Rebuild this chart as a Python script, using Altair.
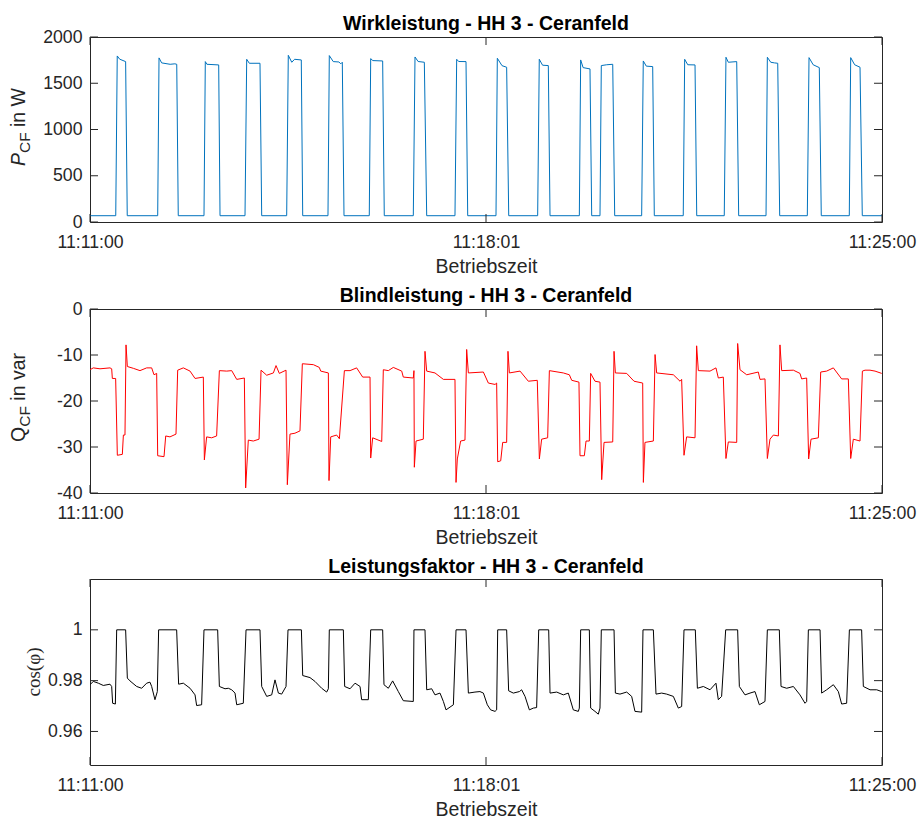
import altair as alt
import pandas as pd

# ---------------- data ----------------
x_domain = [0, 840]
x_tick_values = [0, 420, 840]
x_tick_labels = ["11:11:00", "11:18:01", "11:25:00"]
x_title = "Betriebszeit"

titles = ["Wirkleistung - HH 3 - Ceranfeld",
          "Blindleistung - HH 3 - Ceranfeld",
          "Leistungsfaktor - HH 3 - Ceranfeld"]

P_domain = [0, 2000]
P_ticks = [0, 500, 1000, 1500, 2000]
Q_domain = [-40, 0]
Q_ticks = [-40, -30, -20, -10, 0]
C_domain = [0.9468, 1.02]
C_ticks = [0.96, 0.98, 1.0]

t_P = [0, 27.3, 28.9, 31.5, 37.8, 39.5,
       71.8, 73.2, 76.0, 85.0, 90.0, 92.0, 93.6,
       120.9, 122.3, 124.0, 136.5, 137.9,
       164.4, 166.2, 169.0, 180.3, 182.1,
       208.6, 210.3, 214.0, 217.0, 224.1, 225.6,
       252.4, 253.8, 258.0, 264.0, 266.0, 267.6, 269.4,
       296.2, 297.7, 300.0, 310.4, 312.1,
       342.9, 344.7, 348.0, 354.6, 357.1,
       387.1, 388.9, 391.0, 398.8, 400.6,
       430.6, 432.0, 437.0, 441.9, 444.1,
       474.8, 476.5, 480.0, 486.1, 487.9,
       519.0, 520.4, 523.0, 530.3, 532.1,
       540.9, 542.3, 548.0, 554.4, 556.5,
       585.1, 586.8, 590.0, 596.8, 598.5,
       629.2, 630.7, 634.0, 641.7, 643.5,
       672.7, 674.5, 677.0, 685.9, 688.0,
       717.0, 718.4, 722.0, 726.0, 729.4, 731.5,
       760.8, 762.6, 767.0, 773.5, 775.6,
       805.3, 806.8, 811.0, 816.7, 819.1,
       840]
v_P = [68, 68, 1795, 1760, 1734, 68,
       68, 1774, 1720, 1705, 1710, 1705, 68,
       68, 1734, 1705, 1698, 68,
       68, 1759, 1716, 1716, 68,
       68, 1802, 1727, 1759, 1752, 68,
       68, 1799, 1734, 1730, 1710, 1727, 68,
       68, 1766, 1745, 1741, 68,
       68, 1784, 1735, 1727, 68,
       68, 1759, 1735, 1734, 68,
       68, 1770, 1690, 1673, 68,
       68, 1759, 1695, 1691, 68,
       68, 1752, 1669, 1655, 68,
       68, 1691, 1700, 1705, 68,
       68, 1741, 1685, 1680, 68,
       68, 1759, 1700, 1698, 68,
       68, 1781, 1727, 1734, 68,
       68, 1781, 1727, 1720, 1716, 68,
       68, 1777, 1700, 1669, 68,
       68, 1777, 1700, 1673, 68,
       68]

t_Q = [0, 3.5, 10.6, 21.2, 23.0, 23.7, 27.2,
       29.0, 34.3, 35.4, 37.1, 38.2, 39.6, 46.0, 53.0, 60.1, 65.4, 67.9, 70.7,
       71.8, 78.5, 80.3, 84.8, 91.2, 93.0, 99.0, 106.1, 111.4, 120.2,
       121.3, 123.7, 129.0, 134.3, 137.2, 145.0, 150.3, 155.6, 163.7,
       165.1, 167.9, 173.2, 179.3, 181.4, 187.4, 194.5, 197.3, 200.8, 207.9,
       209.3, 212.1, 217.4, 222.7, 225.2, 236.9, 243.2, 244.7, 252.8,
       253.5, 255.3, 261.6, 264.5, 269.8, 275.8, 282.8, 289.2, 297.0,
       297.7, 299.8, 309.4, 311.1, 316.4, 321.7, 330.6, 332.3, 342.9, 343.6,
       344.0, 345.8, 353.5, 355.3, 357.1, 365.9, 374.8, 387.1,
       388.2, 389.6, 393.1, 397.7, 399.5, 401.3, 417.2, 422.5, 429.6, 431.3,
       432.4, 435.6, 437.7, 441.9, 443.3, 444.8, 456.1, 464.9, 474.4,
       476.6, 479.0, 485.4, 487.2, 502.0, 508.4, 510.9, 518.6,
       519.7, 524.3, 526.1, 529.6, 531.0, 535.6, 540.9,
       542.7, 545.2, 554.4, 555.8, 557.2, 569.2, 577.0, 586.2,
       586.9, 588.6, 597.5, 599.3, 601.0, 618.7, 625.8, 627.5,
       630.0, 632.8, 641.7, 643.4, 645.2, 657.6, 663.9, 666.4, 671.7,
       674.5, 677.0, 685.9, 686.9, 689.4, 696.5, 708.8, 710.6, 715.9,
       718.4, 721.2, 724.8, 730.1, 731.8, 733.6, 746.0, 753.0, 754.8, 760.1,
       762.2, 764.7, 772.5, 775.0, 781.3, 788.4, 797.2, 804.3,
       806.8, 809.6, 816.7, 819.2, 822.0, 827.3, 832.6, 839.7]
v_Q = [-13.2, -12.8, -13.0, -12.8, -13.0, -15.1, -15.1,
       -31.8, -31.6, -27.4, -27.4, -7.8, -12.5, -12.9, -13.4, -12.8, -12.8, -14.3, -14.0,
       -31.9, -32.1, -27.6, -27.8, -27.2, -13.3, -12.8, -13.5, -15.1, -14.8,
       -32.8, -27.8, -28.0, -27.6, -13.4, -13.5, -13.4, -15.3, -15.0,
       -38.9, -28.5, -28.7, -28.3, -13.3, -14.4, -13.9, -12.3, -14.0, -13.3,
       -38.2, -27.2, -27.0, -26.5, -11.9, -12.1, -12.7, -13.5, -13.9,
       -37.3, -27.8, -27.4, -28.2, -13.4, -13.4, -12.8, -14.8, -14.8,
       -32.4, -28.0, -28.8, -13.2, -13.4, -12.7, -13.5, -14.8, -15.0, -13.4,
       -34.4, -28.7, -28.3, -9.2, -13.5, -13.9, -15.3, -15.3,
       -37.7, -32.6, -28.7, -28.5, -8.8, -13.9, -13.7, -16.1, -16.4, -16.1,
       -33.2, -33.0, -29.0, -29.0, -9.2, -13.9, -13.5, -15.7, -15.5,
       -32.6, -28.3, -28.0, -13.4, -13.9, -14.3, -15.5, -15.9,
       -31.9, -31.9, -28.7, -28.7, -14.0, -15.7, -15.9,
       -37.1, -29.0, -28.9, -9.2, -13.9, -14.0, -15.7, -16.1,
       -37.7, -29.0, -28.7, -9.9, -13.9, -14.3, -15.7, -15.3,
       -31.8, -27.8, -28.0, -8.0, -13.4, -13.5, -12.8, -15.0, -14.8,
       -32.5, -28.9, -29.0, -7.5, -13.2, -14.3, -13.7, -15.3, -15.2,
       -32.5, -28.3, -27.4, -27.6, -7.8, -13.4, -13.3, -14.0, -15.2, -15.0,
       -32.6, -28.3, -28.0, -13.7, -13.5, -12.8, -15.2, -15.2,
       -32.5, -28.3, -28.7, -13.5, -13.3, -13.3, -13.5, -14.0]

t_C = [0, 3.5, 8.8, 14.1, 21.2, 23.0, 24.0, 26.9,
       28.3, 37.8, 39.6, 42.4, 49.5, 54.8, 60.1, 63.6, 65.4, 68.9, 71.4,
       72.8, 91.9, 94.0, 99.0, 106.1, 111.4, 113.1, 118.4,
       120.9, 135.4, 137.2, 143.2, 146.7, 150.3, 153.8, 155.6, 162.6,
       165.5, 180.3, 182.1, 187.4, 192.7, 196.2, 199.8, 203.3, 207.9,
       210.0, 224.2, 225.6, 233.3, 238.6, 245.7, 251.0, 252.8,
       253.8, 268.7, 270.1, 275.8, 281.1, 286.4, 288.1, 295.2,
       297.7, 310.4, 311.8, 316.4, 321.0, 327.0, 332.3, 342.9,
       343.6, 355.3, 357.1, 362.4, 365.9, 371.2, 374.8, 377.6, 385.4,
       388.2, 398.8, 401.3, 408.3, 413.6, 417.2, 421.4, 424.9, 429.6, 431.3,
       432.4, 441.9, 444.0, 449.0, 455.4, 457.8, 461.4, 466.0, 470.2, 473.7,
       475.9, 486.5, 487.9, 495.0, 502.0, 507.3, 512.6, 517.9, 519.0,
       520.4, 529.6, 531.0, 535.6, 539.1, 540.9,
       542.3, 555.8, 557.2, 562.1, 569.2, 574.5, 578.0, 585.1,
       586.5, 597.5, 600.3, 606.3, 611.6, 618.7, 624.0, 627.5,
       630.0, 642.0, 644.2, 650.5, 657.6, 663.9, 666.4, 669.9,
       674.2, 686.9, 688.7, 694.7, 700.0, 705.3, 709.9, 715.9,
       718.4, 731.1, 732.9, 738.9, 746.0, 753.0, 758.3, 760.1,
       761.9, 774.3, 776.0, 781.3, 788.4, 793.7, 797.2, 802.5,
       805.4, 818.4, 820.2, 827.3, 834.4, 839.7]
v_C = [0.9784, 0.9797, 0.9790, 0.9781, 0.9786, 0.9777, 0.9711, 0.9708,
       1.0, 1.0, 0.9810, 0.9799, 0.9777, 0.9770, 0.9790, 0.9794, 0.9777, 0.9725, 0.9757,
       1.0, 1.0, 0.9786, 0.9790, 0.9770, 0.9744, 0.9702, 0.9705,
       1.0, 1.0, 0.9777, 0.9768, 0.9770, 0.9764, 0.9751, 0.9705, 0.9711,
       1.0, 1.0, 0.9777, 0.9738, 0.9744, 0.9803, 0.9751, 0.9747, 0.9777,
       1.0, 1.0, 0.9820, 0.9812, 0.9797, 0.9770, 0.9755, 0.9768,
       1.0, 1.0, 0.9777, 0.9768, 0.9790, 0.9777, 0.9725, 0.9725,
       1.0, 1.0, 0.9784, 0.9770, 0.9799, 0.9757, 0.9721, 0.9718,
       1.0, 1.0, 0.9764, 0.9768, 0.9744, 0.9751, 0.9718, 0.9685, 0.9705,
       1.0, 1.0, 0.9751, 0.9755, 0.9757, 0.9751, 0.9705, 0.9685, 0.9679, 0.9685,
       1.0, 1.0, 0.9760, 0.9751, 0.9757, 0.9764, 0.9738, 0.9685, 0.9692, 0.9694,
       1.0, 1.0, 0.9751, 0.9755, 0.9744, 0.9751, 0.9685, 0.9679, 0.9692,
       1.0, 1.0, 0.9692, 0.9679, 0.9668, 0.9692,
       1.0, 1.0, 0.9751, 0.9747, 0.9755, 0.9738, 0.9679, 0.9676,
       1.0, 1.0, 0.9747, 0.9751, 0.9747, 0.9738, 0.9692, 0.9698,
       1.0, 1.0, 0.9770, 0.9777, 0.9764, 0.9790, 0.9725, 0.9738,
       1.0, 1.0, 0.9777, 0.9744, 0.9751, 0.9757, 0.9705, 0.9718,
       1.0, 1.0, 0.9777, 0.9770, 0.9777, 0.9744, 0.9711, 0.9718,
       1.0, 1.0, 0.9751, 0.9764, 0.9784, 0.9757, 0.9708, 0.9711,
       1.0, 1.0, 0.9777, 0.9764, 0.9764, 0.9757]

assert len(t_P) == len(v_P) and len(t_Q) == len(v_Q) and len(t_C) == len(v_C)

# ---------------- style ----------------
W = 792
TICK = 8
FONT = "Liberation Sans"
AX_COLOR = "#262626"

label_expr = ""
for val, lab in zip(x_tick_values[:-1], x_tick_labels[:-1]):
    label_expr += f"datum.value == {val} ? '{lab}' : "
label_expr += f"'{x_tick_labels[-1]}'"


def panel(t, v, color, ydomain, yticks, title, ytitle_layers, toffset, H):
    df = pd.DataFrame({"t": t, "v": v})
    X = alt.X("t:Q", scale=alt.Scale(domain=x_domain, nice=False, zero=False),
              axis=alt.Axis(values=x_tick_values, labelExpr=label_expr,
                            title=x_title, labelFlush=False, labelOverlap=False))
    Y = alt.Y("v:Q", scale=alt.Scale(domain=ydomain, nice=False, zero=False),
              axis=alt.Axis(values=yticks, labelExpr="'' + datum.value", title=None))
    line = alt.Chart(df).mark_line(color=color, strokeWidth=1, clip=True).encode(x=X, y=Y)

    ydf = pd.DataFrame({"v": yticks})
    xdf = pd.DataFrame({"t": x_tick_values})
    tl = alt.Chart(ydf).mark_rule(color=AX_COLOR, strokeWidth=1).encode(
        y=Y, x=alt.value(0), x2=alt.value(TICK))
    tr = alt.Chart(ydf).mark_rule(color=AX_COLOR, strokeWidth=1).encode(
        y=Y, x=alt.value(W - TICK), x2=alt.value(W))
    tb = alt.Chart(xdf).mark_rule(color=AX_COLOR, strokeWidth=1).encode(
        x=X, y=alt.value(H - TICK), y2=alt.value(H))
    tt = alt.Chart(xdf).mark_rule(color=AX_COLOR, strokeWidth=1).encode(
        x=X, y=alt.value(0), y2=alt.value(TICK))

    return alt.layer(line, tl, tr, tb, tt, *ytitle_layers).properties(
        width=W, height=H,
        title=alt.TitleParams(title, fontSize=19.5, font=FONT, fontWeight="bold",
                              color="#000000", anchor="middle", baseline="alphabetic",
                              offset=toffset))


one = pd.DataFrame({"k": [0]})


def txt(text, x, y, size, align="left", style="normal", font=FONT):
    return alt.Chart(one).mark_text(
        text=text, angle=270, align=align, baseline="alphabetic",
        fontSize=size, font=font, fontStyle=style, color=AX_COLOR
    ).encode(x=alt.value(x), y=alt.value(y))


yt1 = [txt("P", -65, 129, 19.5, style="italic"),
       txt("CF", -60, 116, 15.5),
       txt("in W", -65, 90, 19.5)]
yt2 = [txt("Q", -65, 133, 19.5),
       txt("CF", -60, 117.8, 15.5),
       txt("in var", -65, 91.7, 19.5)]
yt3 = [txt("cos(φ)", -50, 93, 19, align="center", font="Liberation Serif")]

p1 = panel(t_P, v_P, "#0072BD", P_domain, P_ticks, titles[0], yt1, -21, 185)
p2 = panel(t_Q, v_Q, "#FF0000", Q_domain, Q_ticks, titles[1], yt2, -21, 184)
p3 = panel(t_C, v_C, "#000000", C_domain, C_ticks, titles[2], yt3, -14, 186)

chart = alt.vconcat(p1, p2, p3, spacing=8).properties(
    padding={"left": 8, "top": 13, "right": 0, "bottom": 0}
).configure_view(
    stroke=AX_COLOR, strokeWidth=1
).configure_axis(
    labelFont=FONT, labelFontSize=17.7, labelColor=AX_COLOR,
    titleFont=FONT, titleFontSize=19.5, titleColor=AX_COLOR, titleFontWeight="normal",
    domain=False, ticks=False, tickSize=0, grid=False
).configure_axisX(
    labelPadding=11.5, titlePadding=6
).configure_axisY(
    labelPadding=8
)

chart.save("out.html", embed_options={"renderer": "svg", "actions": False})
